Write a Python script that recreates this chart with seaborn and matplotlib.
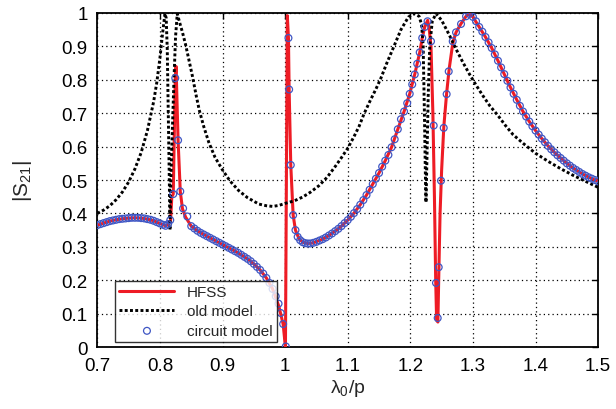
import numpy as np
import matplotlib
matplotlib.use('Agg')
import matplotlib.pyplot as plt
import seaborn as sns

# HFSS (full-wave) curve
hfss_x = [0.700, 0.710, 0.720, 0.730, 0.740, 0.750, 0.760, 0.770, 0.780, 0.790,
          0.800, 0.809, 0.813, 0.8170, 0.8190, 0.8213, 0.8245, 0.8258, 0.8275, 0.829,
          0.8325, 0.836, 0.841, 0.850, 0.860, 0.870, 0.880, 0.890, 0.900, 0.910,
          0.920, 0.930, 0.940, 0.950, 0.960, 0.970, 0.980, 0.990, 0.9968, 1.0005,
          1.0035, 1.0053, 1.0064, 1.009, 1.0128, 1.0165, 1.022, 1.028, 1.036, 1.045,
          1.060, 1.070, 1.080, 1.090, 1.100, 1.110, 1.120, 1.130, 1.140, 1.150,
          1.160, 1.170, 1.180, 1.190, 1.199, 1.207, 1.215, 1.219, 1.223, 1.2277,
          1.2300, 1.2330, 1.2360, 1.2385, 1.2405, 1.2420, 1.2440, 1.2455, 1.2475, 1.2500,
          1.2535, 1.258, 1.262, 1.268, 1.273, 1.281, 1.289, 1.2944, 1.300, 1.310,
          1.320, 1.330, 1.340, 1.350, 1.360, 1.370, 1.380, 1.390, 1.400, 1.410,
          1.420, 1.430, 1.440, 1.450, 1.460, 1.470, 1.480, 1.490, 1.500]
hfss_y = [0.365, 0.371, 0.377, 0.381, 0.384, 0.386, 0.387, 0.386, 0.383, 0.378,
          0.370, 0.363, 0.366, 0.380, 0.450, 0.458, 0.805, 0.840, 0.720, 0.619,
          0.466, 0.414, 0.389, 0.362, 0.348, 0.337, 0.327, 0.317, 0.307, 0.297,
          0.287, 0.276, 0.264, 0.249, 0.231, 0.207, 0.174, 0.122, 0.069, 0.000,
          0.992, 0.925, 0.771, 0.545, 0.395, 0.350, 0.325, 0.314, 0.310, 0.312,
          0.323, 0.334, 0.347, 0.362, 0.380, 0.401, 0.426, 0.455, 0.488, 0.521,
          0.558, 0.598, 0.652, 0.705, 0.758, 0.816, 0.882, 0.925, 0.958, 0.978,
          0.955, 0.900, 0.700, 0.450, 0.200, 0.080, 0.075, 0.220, 0.400, 0.530,
          0.660, 0.760, 0.832, 0.912, 0.942, 0.968, 0.990, 0.997, 0.988, 0.958,
          0.928, 0.895, 0.857, 0.817, 0.777, 0.740, 0.705, 0.675, 0.648, 0.624,
          0.602, 0.583, 0.566, 0.550, 0.536, 0.524, 0.513, 0.504, 0.496]

# old model curve
old_x = [0.700, 0.710, 0.720, 0.730, 0.740, 0.750, 0.760, 0.770, 0.780, 0.790,
         0.795, 0.800, 0.804, 0.808, 0.810, 0.8117, 0.8135, 0.8150, 0.8160, 0.8175,
         0.8197, 0.8224, 0.8250, 0.8277, 0.832, 0.836, 0.841, 0.846, 0.852, 0.858,
         0.863, 0.870, 0.878, 0.888, 0.900, 0.912, 0.926, 0.940, 0.958, 0.970,
         0.980, 0.990, 1.000, 1.015, 1.028, 1.040, 1.054, 1.067, 1.081, 1.090,
         1.100, 1.110, 1.118, 1.126, 1.136, 1.145, 1.153, 1.162, 1.172, 1.185,
         1.197, 1.207, 1.214, 1.218, 1.2205, 1.2225, 1.2240, 1.2250, 1.2265, 1.2285,
         1.2310, 1.2350, 1.2410, 1.250, 1.262, 1.273, 1.284, 1.295, 1.305, 1.316,
         1.327, 1.340, 1.352, 1.364, 1.380, 1.400, 1.420, 1.440, 1.460, 1.480,
         1.500]
old_y = [0.400, 0.410, 0.423, 0.441, 0.464, 0.494, 0.533, 0.582, 0.648, 0.735,
         0.792, 0.865, 0.935, 0.998, 0.985, 0.892, 0.680, 0.500, 0.350, 0.500,
         0.640, 0.800, 0.930, 0.998, 0.968, 0.942, 0.905, 0.862, 0.810, 0.752,
         0.708, 0.660, 0.613, 0.568, 0.530, 0.497, 0.468, 0.447, 0.428, 0.423,
         0.421, 0.424, 0.430, 0.438, 0.449, 0.463, 0.483, 0.508, 0.543, 0.567,
         0.595, 0.630, 0.660, 0.698, 0.738, 0.772, 0.805, 0.848, 0.892, 0.950,
         0.988, 0.998, 0.990, 0.965, 0.900, 0.700, 0.520, 0.433, 0.560, 0.750,
         0.900, 0.975, 0.998, 0.978, 0.935, 0.892, 0.852, 0.815, 0.784, 0.752,
         0.722, 0.693, 0.663, 0.636, 0.610, 0.580, 0.556, 0.534, 0.514, 0.496,
         0.478]

# circuit model samples
circ_x = [0.700, 0.705, 0.710, 0.715, 0.720, 0.725, 0.730, 0.735, 0.740, 0.745,
          0.750, 0.755, 0.760, 0.765, 0.770, 0.775, 0.780, 0.785, 0.790, 0.795,
          0.800, 0.805, 0.809, 0.813, 0.8165, 0.8213, 0.8245, 0.829, 0.8325, 0.837,
          0.8437, 0.850, 0.855, 0.860, 0.865, 0.870, 0.875, 0.880, 0.885, 0.890,
          0.895, 0.900, 0.905, 0.910, 0.915, 0.920, 0.925, 0.930, 0.935, 0.940,
          0.945, 0.950, 0.955, 0.960, 0.965, 0.970, 0.975, 0.980, 0.985, 0.9895,
          0.993, 0.9968, 1.0011, 1.0053, 1.0064, 1.009, 1.0128, 1.0165, 1.020, 1.024,
          1.028, 1.032, 1.036, 1.040, 1.045, 1.050, 1.055, 1.060, 1.065, 1.070,
          1.075, 1.080, 1.085, 1.090, 1.095, 1.100, 1.105, 1.110, 1.115, 1.120,
          1.125, 1.130, 1.135, 1.140, 1.145, 1.150, 1.155, 1.160, 1.165, 1.170,
          1.175, 1.180, 1.185, 1.190, 1.195, 1.199, 1.203, 1.207, 1.211, 1.215,
          1.219, 1.223, 1.2275, 1.2330, 1.2373, 1.2410, 1.2437, 1.2453, 1.2490, 1.2533,
          1.2580, 1.2613, 1.2677, 1.2730, 1.2810, 1.2890, 1.2944, 1.300, 1.305, 1.310,
          1.315, 1.320, 1.325, 1.330, 1.335, 1.340, 1.345, 1.350, 1.355, 1.360,
          1.365, 1.370, 1.375, 1.380, 1.385, 1.390, 1.395, 1.400, 1.405, 1.410,
          1.415, 1.420, 1.425, 1.430, 1.435, 1.440, 1.445, 1.450, 1.455, 1.460,
          1.465, 1.470, 1.475, 1.480, 1.485, 1.490, 1.495, 1.500]
circ_y = [0.365, 0.368, 0.371, 0.374, 0.377, 0.379, 0.381, 0.383, 0.384, 0.385,
          0.386, 0.387, 0.387, 0.387, 0.386, 0.385, 0.383, 0.381, 0.378, 0.374,
          0.370, 0.366, 0.363, 0.368, 0.380, 0.458, 0.805, 0.619, 0.466, 0.415,
          0.391, 0.362, 0.355, 0.348, 0.342, 0.337, 0.332, 0.327, 0.322, 0.317,
          0.312, 0.307, 0.302, 0.297, 0.292, 0.287, 0.282, 0.276, 0.270, 0.264,
          0.257, 0.249, 0.240, 0.231, 0.220, 0.207, 0.192, 0.174, 0.152, 0.130,
          0.102, 0.069, 0.002, 0.925, 0.771, 0.545, 0.395, 0.350, 0.330, 0.320,
          0.314, 0.311, 0.310, 0.310, 0.312, 0.315, 0.319, 0.323, 0.328, 0.334,
          0.340, 0.347, 0.354, 0.362, 0.371, 0.380, 0.390, 0.401, 0.413, 0.426,
          0.440, 0.455, 0.471, 0.488, 0.504, 0.521, 0.540, 0.558, 0.575, 0.598,
          0.622, 0.652, 0.682, 0.705, 0.730, 0.758, 0.786, 0.816, 0.848, 0.882,
          0.925, 0.958, 0.975, 0.915, 0.663, 0.192, 0.087, 0.239, 0.498, 0.656,
          0.757, 0.825, 0.915, 0.942, 0.967, 0.990, 0.997, 0.988, 0.975, 0.958,
          0.944, 0.928, 0.912, 0.895, 0.876, 0.857, 0.837, 0.817, 0.797, 0.777,
          0.758, 0.740, 0.722, 0.705, 0.690, 0.675, 0.661, 0.648, 0.636, 0.624,
          0.613, 0.602, 0.592, 0.583, 0.574, 0.566, 0.558, 0.550, 0.543, 0.536,
          0.530, 0.524, 0.518, 0.513, 0.508, 0.504, 0.500, 0.496]

x_ticks = [0.7, 0.8, 0.9, 1.0, 1.1, 1.2, 1.3, 1.4, 1.5]
y_ticks = [0, 0.1, 0.2, 0.3, 0.4, 0.5, 0.6, 0.7, 0.8, 0.9, 1.0]

sns.set_style('white')
plt.rcParams['font.family'] = ['Liberation Sans', 'DejaVu Sans']
plt.rcParams['mathtext.default'] = 'regular'

fig, ax = plt.subplots(figsize=(6.16, 4.10), dpi=100)
fig.subplots_adjust(left=0.158, right=0.971, top=0.966, bottom=0.151)

sns.lineplot(x=hfss_x, y=hfss_y, ax=ax, sort=False, estimator=None,
             color='#ee1c25', linewidth=2.2, label='HFSS', zorder=3)
sns.lineplot(x=old_x, y=old_y, ax=ax, sort=False, estimator=None,
             color='black', linewidth=2.1, linestyle=(0, (1, 0.8)),
             dash_capstyle='butt', label='old model', zorder=3)
sns.scatterplot(x=circ_x, y=circ_y, ax=ax, marker='o', s=24,
                facecolors='none', edgecolor='#3f56c4', linewidth=0.9,
                label='circuit model', zorder=4)

ax.set_xlim(0.7, 1.5)
ax.set_ylim(0, 1)
ax.set_xticks(x_ticks)
ax.set_yticks(y_ticks)
ax.set_xticklabels([f'{v:g}' for v in x_ticks])
ax.set_yticklabels([f'{v:g}' for v in y_ticks])
ax.tick_params(direction='in', length=4, width=1, labelsize=13.5, colors='black',
               top=True, right=True, pad=7)
ax.grid(True, linestyle=(0, (1, 2.5)), color='black', linewidth=0.9)
for s in ax.spines.values():
    s.set_color('black')
    s.set_linewidth(1.3)

ax.set_xlabel(r'$\lambda_0$/p', fontsize=14, labelpad=2)
ax.set_ylabel(r'|S$_{21}$|', fontsize=15, labelpad=20)

leg = ax.legend(loc='lower left', bbox_to_anchor=(0.035, 0.014), borderaxespad=0,
                fontsize=11, handlelength=3.6, frameon=True, fancybox=False,
                edgecolor='black', scatterpoints=1, labelspacing=0.35,
                borderpad=0.3, handletextpad=0.8)
leg.get_frame().set_linewidth(1.0)

plt.savefig('out.png', dpi=100)
plt.close()
